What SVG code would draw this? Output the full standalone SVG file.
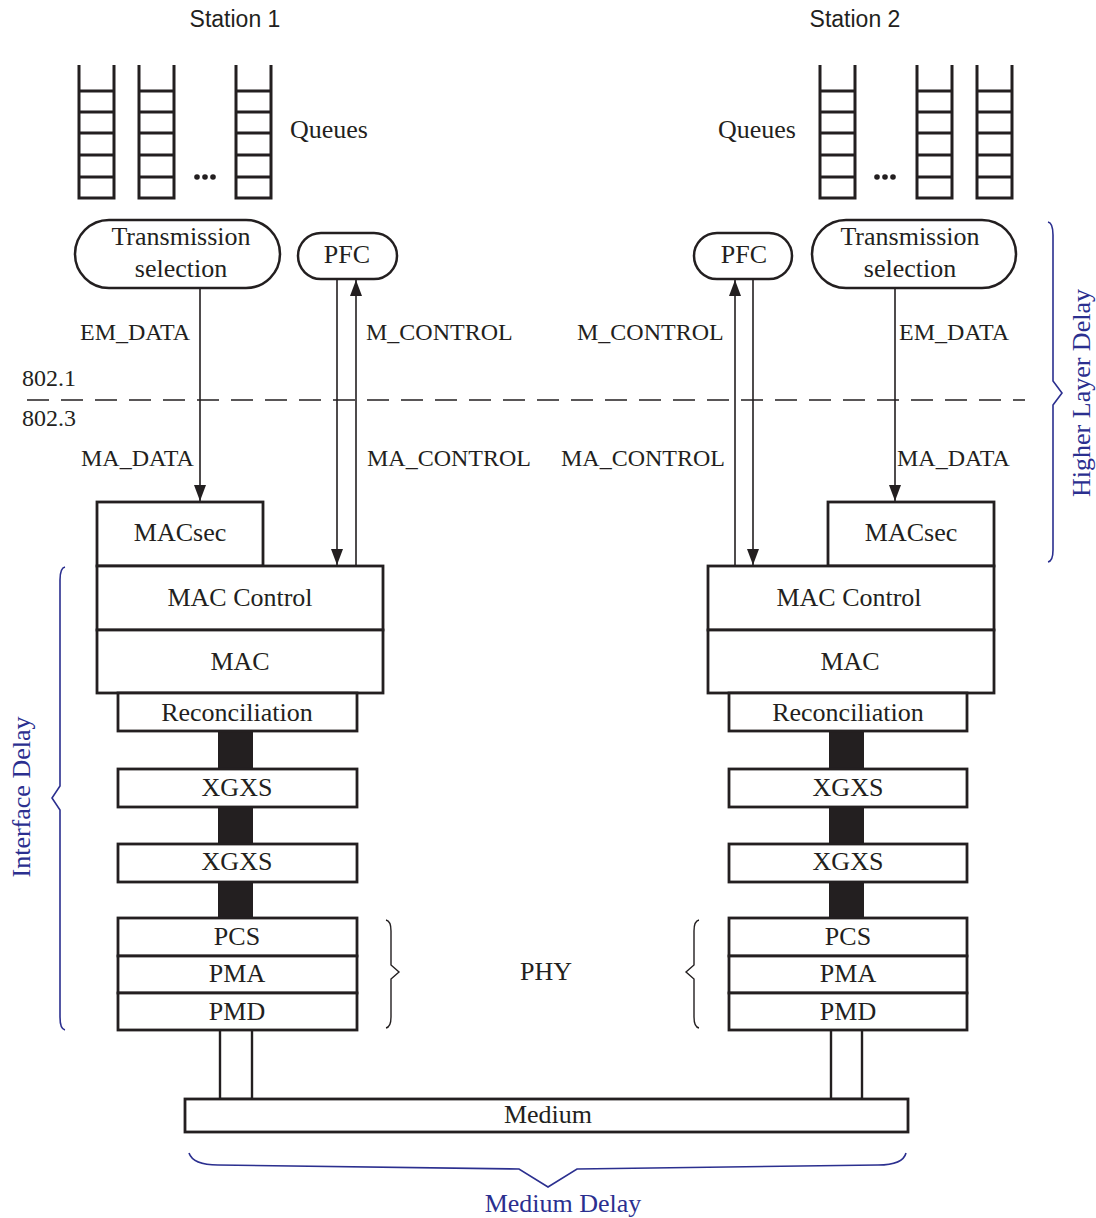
<svg xmlns="http://www.w3.org/2000/svg" width="1096" height="1218" viewBox="0 0 1096 1218">
<style>
.box{fill:#fff;stroke:#231f20;stroke-width:2.8}
.pill{fill:#fff;stroke:#231f20;stroke-width:2.5}
.q{fill:none;stroke:#231f20;stroke-width:3}
.bar{fill:#231f20}
.ln{fill:none;stroke:#231f20;stroke-width:1.6}
.lnb{fill:none;stroke:#231f20;stroke-width:2.4}
.dash{fill:none;stroke:#231f20;stroke-width:1.6;stroke-dasharray:22 12}
.br{fill:none;stroke:#231f20;stroke-width:1.4}
.bb{fill:none;stroke:#2b2f8f;stroke-width:1.6}
.t{font-family:"Liberation Serif","Times New Roman",serif;font-size:26px;fill:#231f20;text-anchor:middle}
.lb{font-family:"Liberation Serif","Times New Roman",serif;font-size:24px;fill:#231f20}
.st{font-family:"Liberation Sans",Arial,sans-serif;font-size:23px;fill:#231f20;text-anchor:middle}
.bt{font-family:"Liberation Serif","Times New Roman",serif;font-size:26px;fill:#2b2f8f;text-anchor:middle}
</style>
<defs>
<marker id="arr" viewBox="0 0 16 12" markerWidth="16" markerHeight="12" refX="16" refY="6" orient="auto" markerUnits="userSpaceOnUse">
<path d="M0,0 L16,6 L0,12 z" fill="#231f20"/>
</marker>
<g id="queue">
<path class="q" d="M0,0 V133 H35 V0 M0,26 H35 M0,47 H35 M0,68 H35 M0,90 H35 M0,112 H35"/>
</g>
</defs>

<g id="station1-label"><text class="st" x="235" y="27">Station 1</text></g>
<g id="station2-label"><text class="st" x="855" y="27">Station 2</text></g>

<g id="queues1">
<use href="#queue" x="79" y="65"/>
<use href="#queue" x="139" y="65"/>
<use href="#queue" x="236" y="65"/>
<circle cx="197" cy="177" r="2.8" fill="#231f20"/>
<circle cx="205" cy="177" r="2.8" fill="#231f20"/>
<circle cx="213" cy="177" r="2.8" fill="#231f20"/>
<text class="lb" x="290" y="138" style="font-size:26px">Queues</text>
</g>
<g id="queues2">
<use href="#queue" x="820" y="65"/>
<use href="#queue" x="917" y="65"/>
<use href="#queue" x="977" y="65"/>
<circle cx="877" cy="177" r="2.8" fill="#231f20"/>
<circle cx="885" cy="177" r="2.8" fill="#231f20"/>
<circle cx="893" cy="177" r="2.8" fill="#231f20"/>
<text class="lb" x="718" y="138" style="font-size:26px">Queues</text>
</g>

<g id="ts1"><rect class="pill" x="75" y="220" width="205" height="68" rx="34"/>
<text class="t" x="181" y="245">Transmission</text><text class="t" x="181" y="277">selection</text></g>
<g id="pfc1"><rect class="pill" x="298" y="233" width="99" height="46" rx="23"/>
<text class="t" x="347" y="263">PFC</text></g>
<g id="ts2"><rect class="pill" x="812" y="220" width="204" height="68" rx="34"/>
<text class="t" x="910" y="245">Transmission</text><text class="t" x="910" y="277">selection</text></g>
<g id="pfc2"><rect class="pill" x="694" y="233" width="98" height="46" rx="23"/>
<text class="t" x="744" y="263">PFC</text></g>

<g id="layer-line">
<line class="dash" x1="27" y1="400" x2="1025" y2="400"/>
<text class="lb" x="22" y="386">802.1</text>
<text class="lb" x="22" y="426">802.3</text>
</g>

<g id="connectors">
<line class="ln" x1="200" y1="288" x2="200" y2="501" marker-end="url(#arr)"/>
<line class="ln" x1="337" y1="279" x2="337" y2="565" marker-end="url(#arr)"/>
<line class="ln" x1="356" y1="566" x2="356" y2="280" marker-end="url(#arr)"/>
<line class="ln" x1="735" y1="566" x2="735" y2="280" marker-end="url(#arr)"/>
<line class="ln" x1="753" y1="279" x2="753" y2="565" marker-end="url(#arr)"/>
<line class="ln" x1="895" y1="288" x2="895" y2="501" marker-end="url(#arr)"/>
<rect class="bar" x="218" y="731" width="35" height="38"/>
<rect class="bar" x="218" y="807" width="35" height="37"/>
<rect class="bar" x="218" y="882" width="35" height="36"/>
<rect class="bar" x="829" y="731" width="35" height="38"/>
<rect class="bar" x="829" y="807" width="35" height="37"/>
<rect class="bar" x="829" y="882" width="35" height="36"/>
<line class="lnb" x1="220" y1="1031" x2="220" y2="1099"/>
<line class="lnb" x1="252" y1="1031" x2="252" y2="1099"/>
<line class="lnb" x1="831" y1="1031" x2="831" y2="1099"/>
<line class="lnb" x1="862" y1="1031" x2="862" y2="1099"/>
<line class="lnb" x1="220" y1="1099" x2="252" y2="1099"/>
<line class="lnb" x1="831" y1="1099" x2="862" y2="1099"/>
</g>

<g id="labels">
<text class="lb" x="80" y="340">EM_DATA</text>
<text class="lb" x="366" y="340">M_CONTROL</text>
<text class="lb" x="81" y="466">MA_DATA</text>
<text class="lb" x="367" y="466">MA_CONTROL</text>
<text class="lb" x="577" y="340">M_CONTROL</text>
<text class="lb" x="561" y="466">MA_CONTROL</text>
<text class="lb" x="899" y="340">EM_DATA</text>
<text class="lb" x="897" y="466">MA_DATA</text>
</g>

<g id="macsec1"><rect class="box" x="97" y="502" width="166" height="64"/><text class="t" x="180" y="541">MACsec</text></g>
<g id="maccontrol1"><rect class="box" x="97" y="566" width="286" height="64"/><text class="t" x="240" y="606">MAC Control</text></g>
<g id="mac1"><rect class="box" x="97" y="630" width="286" height="63"/><text class="t" x="240" y="670">MAC</text></g>
<g id="recon1"><rect class="box" x="118" y="693" width="239" height="38"/><text class="t" x="237" y="721">Reconciliation</text></g>
<g id="xgxs1a"><rect class="box" x="118" y="769" width="239" height="38"/><text class="t" x="237" y="796">XGXS</text></g>
<g id="xgxs1b"><rect class="box" x="118" y="844" width="239" height="38"/><text class="t" x="237" y="870">XGXS</text></g>
<g id="pcs1"><rect class="box" x="118" y="918" width="239" height="38"/><text class="t" x="237" y="945">PCS</text></g>
<g id="pma1"><rect class="box" x="118" y="956" width="239" height="37"/><text class="t" x="237" y="982">PMA</text></g>
<g id="pmd1"><rect class="box" x="118" y="993" width="239" height="37"/><text class="t" x="237" y="1020">PMD</text></g>

<g id="macsec2"><rect class="box" x="828" y="502" width="166" height="64"/><text class="t" x="911" y="541">MACsec</text></g>
<g id="maccontrol2"><rect class="box" x="708" y="566" width="286" height="64"/><text class="t" x="849" y="606">MAC Control</text></g>
<g id="mac2"><rect class="box" x="708" y="630" width="286" height="63"/><text class="t" x="850" y="670">MAC</text></g>
<g id="recon2"><rect class="box" x="729" y="693" width="238" height="38"/><text class="t" x="848" y="721">Reconciliation</text></g>
<g id="xgxs2a"><rect class="box" x="729" y="769" width="238" height="38"/><text class="t" x="848" y="796">XGXS</text></g>
<g id="xgxs2b"><rect class="box" x="729" y="844" width="238" height="38"/><text class="t" x="848" y="870">XGXS</text></g>
<g id="pcs2"><rect class="box" x="729" y="918" width="238" height="38"/><text class="t" x="848" y="945">PCS</text></g>
<g id="pma2"><rect class="box" x="729" y="956" width="238" height="37"/><text class="t" x="848" y="982">PMA</text></g>
<g id="pmd2"><rect class="box" x="729" y="993" width="238" height="37"/><text class="t" x="848" y="1020">PMD</text></g>

<g id="medium"><rect class="box" x="185" y="1099" width="723" height="33"/><text class="t" x="548" y="1123">Medium</text></g>

<g id="phy">
<path class="br" d="M386,920 Q391,921 391,931 L391,965 L399,972 L391,979 L391,1017 Q391,1027 386,1028"/>
<path class="br" d="M699,920 Q694,921 694,931 L694,965 L686,972 L694,979 L694,1017 Q694,1027 699,1028"/>
<text class="t" x="546" y="980">PHY</text>
</g>

<g id="interface-delay">
<path class="bb" d="M65,567 Q60,568 60,580 L60,786 L52,798 L60,810 L60,1017 Q60,1029 65,1030"/>
<text class="bt" transform="translate(30,797) rotate(-90)">Interface Delay</text>
</g>
<g id="higher-layer-delay">
<path class="bb" d="M1048,222 Q1053,223 1053,235 L1053,381 L1062,393 L1053,405 L1053,550 Q1053,561 1048,562"/>
<text class="bt" transform="translate(1090,393) rotate(-90)">Higher Layer Delay</text>
</g>
<g id="medium-delay">
<path class="bb" d="M189,1153 Q193,1165 218,1165 L519,1169 L548,1187 L577,1169 L878,1165 Q903,1165 906,1153"/>
<text class="bt" x="563" y="1212">Medium Delay</text>
</g>
</svg>
